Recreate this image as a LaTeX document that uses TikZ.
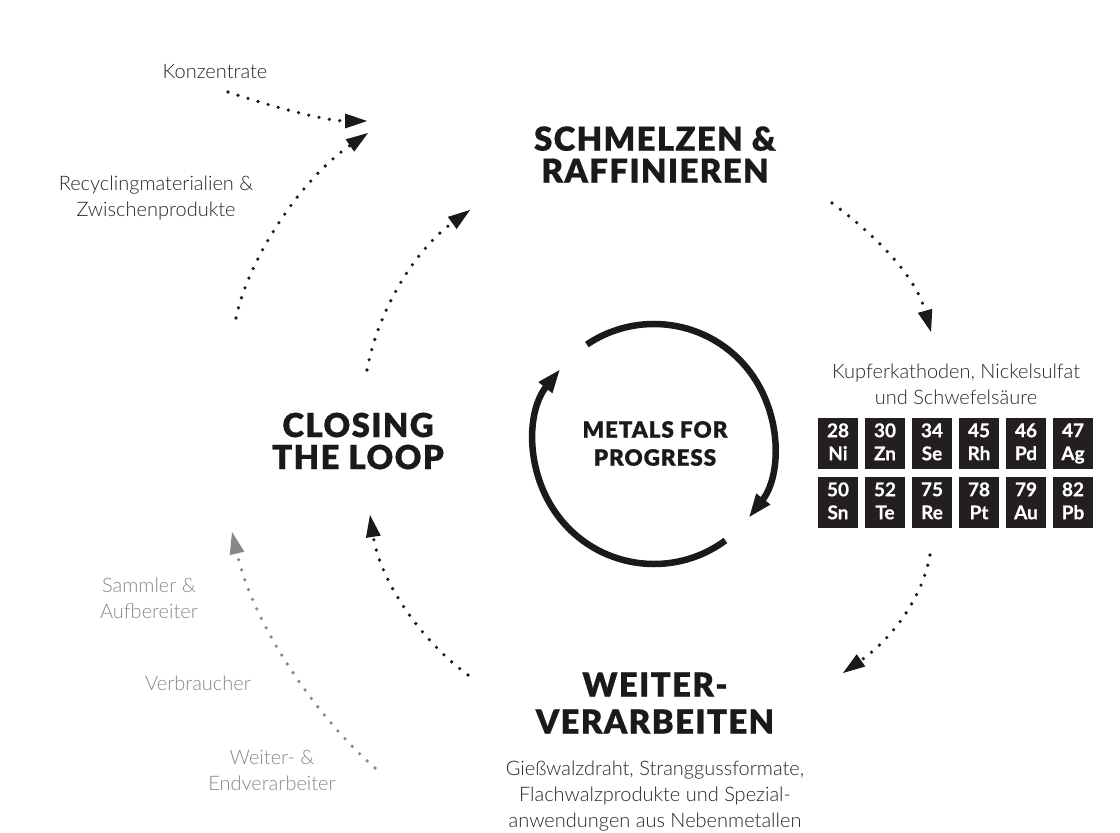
\documentclass[tikz,border=0pt]{standalone}
\usepackage{fontspec}
\setmainfont{Lato}
\newfontfamily\lightf{Lato Light}
\newfontfamily\blackf{Lato Black}[LetterSpace=4,FakeBold=0.6]
\newfontfamily\elemf{Lato Bold}[FakeBold=0.4]
\usetikzlibrary{arrows.meta}
\definecolor{ink}{HTML}{1A1A1A}
\definecolor{txt}{HTML}{262626}
\definecolor{greyink}{HTML}{888888}
\definecolor{boxfill}{HTML}{231F20}
\begin{document}
\begin{tikzpicture}[x=1pt,y=-1pt,
  head/.style={font=\blackf\fontsize{33}{32}\selectfont, align=center, inner sep=0pt, text=ink},
  headbig/.style={font=\blackf\fontsize{33}{37}\selectfont, align=center, inner sep=0pt, text=ink},
  centre/.style={font=\blackf\fontsize{22.5}{28}\selectfont, align=center, inner sep=0pt, text=ink},
  lbl/.style={font=\lightf\fontsize{20}{26}\selectfont, align=center, inner sep=0pt, text=txt},
  glbl/.style={lbl, text=greyink},
  flow/.style={draw=ink, line width=3.6pt, line cap=round, dash pattern=on 0pt off 10.5pt,
    -{Triangle[length=22pt,width=15pt,line width=0pt]}},
  gflow/.style={flow, draw=greyink},
  ring/.style={draw=ink, line width=6.5pt, -{Triangle[length=24pt,width=16pt]}},
  elem/.style={fill=boxfill, minimum width=40pt, minimum height=51pt, inner sep=0pt,
    text=white, font=\elemf\fontsize{19}{23}\selectfont, align=center}
]
\fill[white] (0,0) rectangle (1120,833);
\useasboundingbox (0,0) rectangle (1120,833);

% headings
\node[head] (schm) at (655,154.5) {SCHMELZEN \&\\RAFFINIEREN};
\node[head] (close) at (358,441) {CLOSING\\THE LOOP};
\node[headbig] (weiter) at (655,703) {WEITER-\\VERARBEITEN};
\node[centre] (metals) at (655,443.5) {METALS FOR\\PROGRESS};

% labels
\node[lbl] (konz) at (215,72) {Konzentrate};
\node[lbl] (recyc) at (156,198) {Recyclingmaterialien \&\\Zwischenprodukte};
\node[lbl] (kupfer) at (956,384) {Kupferkathoden, Nickelsulfat\\und Schwefelsäure};
\node[lbl] (prod) at (655,796) {Gießwalzdraht, Stranggussformate,\\Flachwalzprodukte und Spezial-\\anwendungen aus Nebenmetallen};
\node[glbl] (sammler) at (149,598) {Sammler \&\\Aufbereiter};
\node[glbl] (verbr) at (198,683) {Verbraucher};
\node[glbl] (endv) at (272,770) {Weiter- \&\\Endverarbeiter};

% element boxes
\foreach \n/\s [count=\i from 0] in {28/Ni,30/Zn,34/Se,45/Rh,46/Pd,47/Ag}
  \node[elem] (e1\i) at (838+47*\i,443.5) {\n\\\s\vphantom{g}};
\foreach \n/\s [count=\i from 0] in {50/Sn,52/Te,75/Re,78/Pt,79/Au,82/Pb}
  \node[elem] (e2\i) at (838+47*\i,502.5) {\n\\\s\vphantom{g}};

% central ring
\coordinate (c) at (654,444);
\draw[ring] (c) ++(-124:120) arc[start angle=-124, end angle=38, radius=120];
\draw[ring] (c) ++(53.5:120) arc[start angle=53.5, end angle=218.7, radius=120];

% dotted flows
\coordinate (k1) at (228,92);   \coordinate (k2) at (367,121);
\coordinate (r1) at (236,318);  \coordinate (r2) at (368,133);
\coordinate (l1) at (367,370);  \coordinate (l2) at (470,210);
\coordinate (s1) at (832,203);  \coordinate (s2) at (931,332);
\coordinate (p1) at (930,555);  \coordinate (p2) at (843,673);
\coordinate (w1) at (468,675);  \coordinate (w2) at (370,515);
\coordinate (g1) at (375,768);  \coordinate (g2) at (232,532);

\draw[flow] (k1) .. controls (270,106) and (325,121) .. (k2);
\draw[flow] (r1) .. controls (248,260) and (300,180) .. (r2);
\draw[flow] (l1) .. controls (378,310) and (415,250) .. (l2);
\draw[flow] (s1) .. controls (875,235) and (915,275) .. (s2);
\draw[flow] (p1) .. controls (922,600) and (890,640) .. (p2);
\draw[flow] (w1) .. controls (420,640) and (380,580) .. (w2);
\draw[gflow] (g1) .. controls (320,720) and (255,630) .. (g2);
\end{tikzpicture}
\end{document}
